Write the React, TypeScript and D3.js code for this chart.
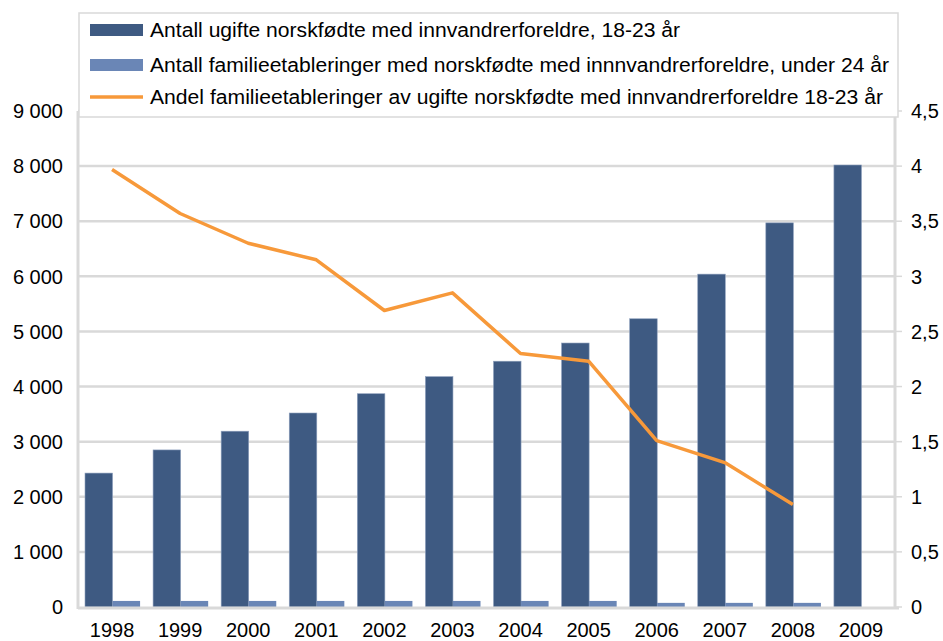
import React, { useEffect, useRef } from 'react';
import * as d3 from 'd3';

const years = ['1998', '1999', '2000', '2001', '2002', '2003', '2004', '2005', '2006', '2007', '2008', '2009'];
const unmarried = [2430, 2850, 3190, 3520, 3870, 4180, 4460, 4790, 5230, 6040, 6970, 8020];
const establishments = [110, 110, 110, 110, 110, 110, 110, 110, 75, 75, 75, null];
const share = [3.97, 3.57, 3.3, 3.15, 2.69, 2.85, 2.3, 2.23, 1.51, 1.31, 0.93, null];

const leftTicks = [0, 1000, 2000, 3000, 4000, 5000, 6000, 7000, 8000, 9000];
const rightTicks = [0, 0.5, 1, 1.5, 2, 2.5, 3, 3.5, 4, 4.5];

const legendLabels = [
  'Antall ugifte norskfødte med innvandrerforeldre, 18-23 år',
  'Antall familieetableringer med norskfødte med innnvandrerforeldre, under 24 år',
  'Andel familieetableringer av ugifte norskfødte med innvandrerforeldre 18-23 år',
];

const DARK = '#3e5a82';
const LIGHT = '#6a86b6';
const ORANGE = '#f7993a';
const GRID = '#d9d9d9';
const FONT = 'Liberation Sans, Arial, sans-serif';

const App = () => {
  const ref = useRef<SVGSVGElement | null>(null);

  useEffect(() => {
    const svg = d3.select(ref.current);
    svg.selectAll('*').remove();

    const left = 78, right = 895, top = 111, bottom = 607;

    const x = d3.scaleBand().domain(years).range([left, right]).padding(0);
    const xs = d3.scaleBand().domain(['a', 'b']).range([7, x.bandwidth() - 6]);
    const y = d3.scaleLinear().domain([0, 9000]).range([bottom, top]);
    const y2 = d3.scaleLinear().domain([0, 4.5]).range([bottom, top]);
    const fmt = (v: number) => d3.format(',')(v).replace(/,/g, ' ');

    // gridlines
    svg.append('g')
      .selectAll('line')
      .data(leftTicks.slice(1))
      .join('line')
      .attr('x1', left).attr('x2', right)
      .attr('y1', d => y(d)).attr('y2', d => y(d))
      .attr('stroke', GRID).attr('stroke-width', 2.5);

    // left axis labels
    svg.append('g')
      .selectAll('text')
      .data(leftTicks)
      .join('text')
      .attr('x', 63).attr('y', d => y(d))
      .attr('dy', '0.36em')
      .attr('text-anchor', 'end')
      .style('font-family', FONT).style('font-size', '20px')
      .text(d => fmt(d));

    // right axis ticks + labels
    svg.append('g')
      .selectAll('line')
      .data(rightTicks)
      .join('line')
      .attr('x1', right).attr('x2', right + 7)
      .attr('y1', d => y2(d)).attr('y2', d => y2(d))
      .attr('stroke', GRID).attr('stroke-width', 1.5);

    svg.append('g')
      .selectAll('text')
      .data(rightTicks)
      .join('text')
      .attr('x', 911).attr('y', d => y2(d))
      .attr('dy', '0.36em')
      .style('font-family', FONT).style('font-size', '20px')
      .text(d => String(d).replace('.', ','));

    // bars
    const groups = svg.append('g')
      .selectAll('g')
      .data(years)
      .join('g')
      .attr('transform', d => `translate(${x(d)},0)`);

    groups.append('rect')
      .attr('x', xs('a')!)
      .attr('width', xs.bandwidth())
      .attr('y', (_, i) => y(unmarried[i]))
      .attr('height', (_, i) => bottom - y(unmarried[i]))
      .attr('fill', DARK)
      .attr('stroke', '#8ea0bd').attr('stroke-width', 0.6);

    groups.filter((_, i) => establishments[i] != null)
      .append('rect')
      .attr('x', xs('b')!)
      .attr('width', xs.bandwidth())
      .attr('y', d => y(establishments[years.indexOf(d)]!))
      .attr('height', d => bottom - y(establishments[years.indexOf(d)]!))
      .attr('fill', LIGHT);

    // axes lines
    svg.append('line')
      .attr('x1', left).attr('x2', left).attr('y1', top).attr('y2', bottom + 2)
      .attr('stroke', GRID).attr('stroke-width', 3);
    svg.append('line')
      .attr('x1', right).attr('x2', right).attr('y1', top).attr('y2', bottom + 2)
      .attr('stroke', GRID).attr('stroke-width', 3);
    svg.append('line')
      .attr('x1', left).attr('x2', right + 4).attr('y1', bottom + 1).attr('y2', bottom + 1)
      .attr('stroke', GRID).attr('stroke-width', 3);

    // x labels
    svg.append('g')
      .selectAll('text')
      .data(years)
      .join('text')
      .attr('x', d => x(d)! + x.bandwidth() / 2)
      .attr('y', 637)
      .attr('text-anchor', 'middle')
      .style('font-family', FONT).style('font-size', '20px')
      .text(d => d);

    // share line
    const pts = years.map((yr, i) => ({ yr, v: share[i] })).filter(d => d.v != null);
    const line = d3.line<{ yr: string; v: number | null }>()
      .x(d => x(d.yr)! + x.bandwidth() / 2)
      .y(d => y2(d.v!));
    svg.append('path')
      .datum(pts)
      .attr('fill', 'none')
      .attr('stroke', ORANGE)
      .attr('stroke-width', 3.5)
      .attr('stroke-linejoin', 'round')
      .attr('d', line);

    // legend
    const lg = svg.append('g');
    lg.append('rect')
      .attr('x', 79).attr('y', 13).attr('width', 819).attr('height', 104)
      .attr('fill', '#fff').attr('stroke', GRID).attr('stroke-width', 1.5);

    const rowY = [30, 65, 97];
    const rowW = [530, 739, 733];
    legendLabels.forEach((label, i) => {
      if (i < 2) {
        lg.append('rect')
          .attr('x', 90).attr('y', rowY[i] - 6).attr('width', 53).attr('height', 12)
          .attr('fill', i === 0 ? DARK : LIGHT);
      } else {
        lg.append('line')
          .attr('x1', 90).attr('x2', 143).attr('y1', rowY[i]).attr('y2', rowY[i])
          .attr('stroke', ORANGE).attr('stroke-width', 3.5);
      }
      lg.append('text')
        .attr('x', 150).attr('y', rowY[i])
        .attr('dy', '0.36em')
        .attr('textLength', rowW[i])
        .attr('lengthAdjust', 'spacingAndGlyphs')
        .style('font-family', FONT).style('font-size', '20px')
        .text(label);
    });
  }, []);

  return (
    <div style={{ position: 'absolute', left: 0, top: 0 }}>
      <svg ref={ref} width={943} height={641} style={{ background: '#fff', display: 'block' }} />
    </div>
  );
};

export default App;
